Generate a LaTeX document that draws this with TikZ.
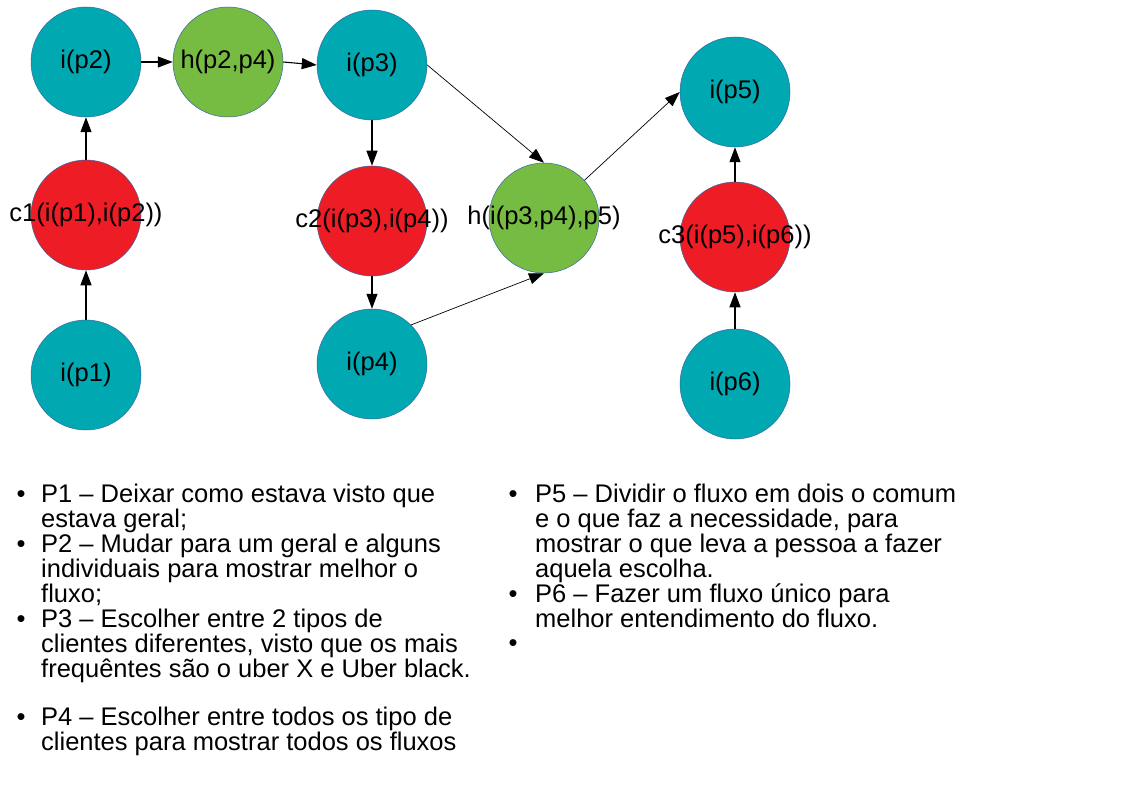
\documentclass[tikz,border=0pt]{standalone}
\usepackage{fontspec}
\setmainfont{Liberation Sans}
\usetikzlibrary{arrows.meta}
\definecolor{tealc}{RGB}{0,169,177}
\definecolor{greenc}{RGB}{119,188,66}
\definecolor{redc}{RGB}{238,28,37}
\definecolor{rimc}{RGB}{52,101,164}
\tikzset{
  bub/.style={circle, draw=rimc, line width=0.5pt, inner sep=0pt, minimum size=110pt,
     font=\fontsize{25.5}{25.5}\selectfont},
  ib/.style={bub, fill=tealc},
  hb/.style={bub, fill=greenc},
  cb/.style={bub, fill=redc},
  arr/.style={line width=1.1pt, -{Triangle[length=15pt,width=11pt]}},
  darr/.style={line width=0.7pt, -{Triangle[length=15pt,width=11pt]}},
  ln/.style={anchor=base west, inner sep=0pt, font=\fontsize{25.5}{25.5}\selectfont},
  bul/.style={anchor=base, inner sep=0pt, font=\fontsize{25.5}{25.5}\selectfont},
}
\newcommand{\zb}[1]{\makebox[0pt]{#1}}
\begin{document}
\begin{tikzpicture}[x=1pt,y=-1pt]
\useasboundingbox[fill=white] (0,0) rectangle (1123,794);
% circles
\node[ib] (p2) at (86,62) {\zb{i(p2)}};
\node[hb] (h24) at (228,62) {\zb{h(p2,p4)}};
\node[ib] (p3) at (372,65) {\zb{i(p3)}};
\node[cb] (c1) at (86,215) {\zb{c1(i(p1),i(p2))}};
\node[cb] (c2) at (372,221) {\zb{c2(i(p3),i(p4))}};
\node[hb] (h345) at (544,218) {\zb{h(i(p3,p4),p5)}};
\node[ib] (p5) at (735,92) {\zb{i(p5)}};
\node[cb] (c3) at (735,237) {\zb{c3(i(p5),i(p6))}};
\node[ib] (p1) at (86,375) {\zb{i(p1)}};
\node[ib] (p4) at (372,364) {\zb{i(p4)}};
\node[ib] (p6) at (735,384) {\zb{i(p6)}};
% connectors
\draw[arr] (c1.north) -- (p2.south);
\draw[arr] (p1.north) -- (c1.south);
\draw[arr] (p2.east) -- (h24.west);
\draw[arr] (h24.east) -- (p3.west);
\draw[arr] (p3.south) -- (c2.north);
\draw[arr] (c2.south) -- (p4.north);
\draw[darr] (p3.east) -- (h345.north);
\draw[darr] (p4.45) -- (h345.south);
\draw[darr] (h345.43) -- (p5.west);
\draw[arr] (c3.north) -- (p5.south);
\draw[arr] (p6.north) -- (c3.south);
% left list
\node[bul] (b1) at (21,502) {•};
\node[ln] (l1) at (41,502) {P1 – Deixar como estava visto que};
\node[ln] (l2) at (41,527) {estava geral;};
\node[bul] (b2) at (21,552) {•};
\node[ln] (l3) at (41,552) {P2 – Mudar para um geral e alguns};
\node[ln] (l4) at (41,577) {individuais para mostrar melhor o};
\node[ln] (l5) at (41,602) {fluxo;};
\node[bul] (b3) at (21,627) {•};
\node[ln] (l6) at (41,627) {P3 – Escolher entre 2 tipos de};
\node[ln] (l7) at (41,652) {clientes diferentes, visto que os mais};
\node[ln] (l8) at (41,677) {frequêntes são o uber X e Uber black.};
\node[bul] (b4) at (21,725) {•};
\node[ln] (l9) at (41,725) {P4 – Escolher entre todos os tipo de};
\node[ln] (l10) at (41,750) {clientes para mostrar todos os fluxos};
% right list
\node[bul] (b5) at (513,502) {•};
\node[ln] (r1) at (535,502) {P5 – Dividir o fluxo em dois o comum};
\node[ln] (r2) at (535,527) {e o que faz a necessidade, para};
\node[ln] (r3) at (535,552) {mostrar o que leva a pessoa a fazer};
\node[ln] (r4) at (535,577) {aquela escolha.};
\node[bul] (b6) at (513,602) {•};
\node[ln] (r5) at (535,602) {P6 – Fazer um fluxo único para};
\node[ln] (r6) at (535,627) {melhor entendimento do fluxo.};
\node[bul] (b7) at (513,651) {•};
\end{tikzpicture}
\end{document}
